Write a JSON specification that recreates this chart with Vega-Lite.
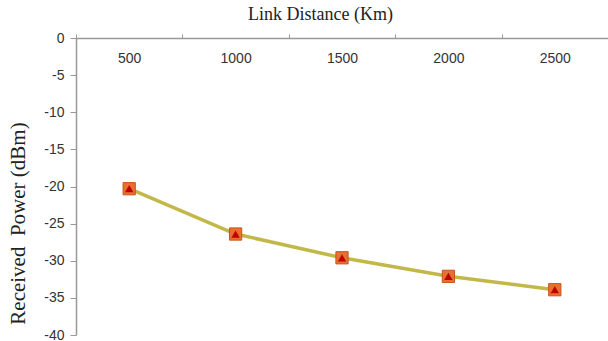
{
  "$schema": "https://vega.github.io/schema/vega-lite/v6.json",
  "width": 532,
  "height": 297,
  "autosize": {"type": "none"},
  "padding": {"left": 76, "top": 38, "right": 0, "bottom": 6},
  "background": "white",
  "config": {"view": {"stroke": null}},
  "data": {
    "values": [
      {"distance": "500", "power": -20.3},
      {"distance": "1000", "power": -26.4},
      {"distance": "1500", "power": -29.6},
      {"distance": "2000", "power": -32.1},
      {"distance": "2500", "power": -33.9}
    ]
  },
  "encoding": {
    "x": {
      "field": "distance",
      "type": "ordinal",
      "sort": ["500", "1000", "1500", "2000", "2500"],
      "scale": {"type": "band", "paddingInner": 0, "paddingOuter": 0},
      "axis": {
        "orient": "top",
        "title": "Link Distance (Km)",
        "titleFont": "Liberation Serif",
        "titleFontSize": 18,
        "titleFontWeight": "normal",
        "titleColor": "#222",
        "titleX": 244,
        "titleY": -24,
        "titleBaseline": "middle",
        "titleAlign": "center",
        "labelAngle": 0,
        "labelFont": "Liberation Sans",
        "labelFontSize": 14,
        "labelColor": "#333",
        "labelBaseline": "middle",
        "labelPadding": -24,
        "tickBand": "extent",
        "tickSize": 4,
        "tickColor": "#999",
        "domainColor": "#999",
        "domainWidth": 1.5,
        "grid": false
      }
    },
    "y": {
      "field": "power",
      "type": "quantitative",
      "scale": {"domain": [-40, 0], "nice": false, "zero": false},
      "axis": {
        "values": [0, -5, -10, -15, -20, -25, -30, -35, -40],
        "labelExpr": "'' + datum.value",
        "title": "Received\u00a0\u00a0Power\u00a0(dBm)",
        "titleFont": "Liberation Serif",
        "titleFontSize": 21,
        "titleFontWeight": "normal",
        "titleColor": "#222",
        "titleAngle": -90,
        "titleX": -58,
        "titleY": 185,
        "titleBaseline": "middle",
        "titleAlign": "center",
        "labelFont": "Liberation Sans",
        "labelFontSize": 14,
        "labelColor": "#333",
        "labelPadding": 6,
        "tickSize": 6,
        "tickColor": "#999",
        "domainColor": "#999",
        "domainWidth": 1.5,
        "grid": false
      }
    }
  },
  "layer": [
    {
      "mark": {"type": "line", "color": "#c2b84a", "strokeWidth": 3.5}
    },
    {
      "mark": {"type": "point", "shape": "square", "filled": true, "size": 150, "color": "#e8702e", "stroke": "#c9541f", "strokeWidth": 1, "opacity": 1}
    },
    {
      "mark": {"type": "point", "shape": "triangle-up", "filled": true, "size": 70, "color": "#c00000", "opacity": 1}
    }
  ]
}
